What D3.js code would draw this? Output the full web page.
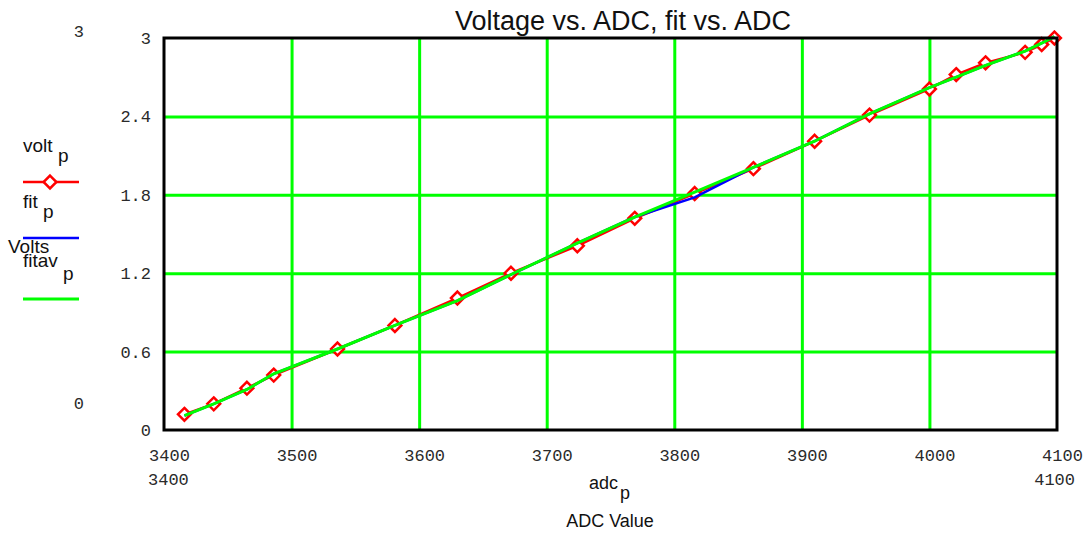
<!DOCTYPE html>
<html>
<head>
<meta charset="utf-8">
<script src="https://cdn.jsdelivr.net/npm/d3@7"></script>
<style>
  html, body { margin: 0; padding: 0; background: #fff; }
  svg { display: block; }
  .mono { font-family: "Liberation Mono", "Courier New", monospace; font-size: 17px; fill: #2a2a2a; }
  .sans { font-family: "Liberation Sans", Arial, sans-serif; fill: #111; }
</style>
</head>
<body>
<svg id="chart" width="1092" height="534"></svg>
<script>
// ADC readings and measured voltages
const adc_p   = [3416, 3439, 3465, 3486, 3536, 3581, 3630, 3672, 3724, 3769,
                 3816, 3862, 3910, 3953, 4000, 4021, 4044, 4075, 4088, 4098];
const volt_p  = [0.12, 0.20, 0.32, 0.42, 0.62, 0.80, 1.01, 1.20, 1.41, 1.62,
                 1.81, 2.00, 2.21, 2.41, 2.61, 2.72, 2.81, 2.89, 2.95, 3.00];
// fitted curves evaluated at the same ADC readings
const fit_p   = [0.11, 0.20, 0.31, 0.43, 0.62, 0.80, 0.99, 1.19, 1.43, 1.63,
                 1.78, 2.01, 2.21, 2.42, 2.62, 2.70, 2.79, 2.90, 2.96, 3.01];
const fitav_p = [0.11, 0.20, 0.31, 0.43, 0.62, 0.80, 0.99, 1.19, 1.43, 1.63,
                 1.82, 2.01, 2.21, 2.42, 2.62, 2.70, 2.79, 2.90, 2.96, 3.01];

const xTicks = [3400, 3500, 3600, 3700, 3800, 3900, 4000, 4100];
const yTicks = [0, 0.6, 1.2, 1.8, 2.4, 3];
const xLimits = [3400, 4100];
const yLimits = [0, 3];

const svg = d3.select("#chart");
const x = d3.scaleLinear().domain(xLimits).range([164, 1057]);
const y = d3.scaleLinear().domain(yLimits).range([430, 38]);

const GRID = "#00ff00";

// grid lines (interior ticks only)
svg.append("g")
  .attr("transform", `translate(0,${y(0)})`)
  .call(d3.axisBottom(x).tickValues(xTicks.slice(1, -1)).tickSize(-(y(0) - y(3))).tickFormat(""))
  .call(g => g.select(".domain").remove())
  .call(g => g.selectAll("line").attr("stroke", GRID).attr("stroke-width", 3));
svg.append("g")
  .attr("transform", `translate(${x(3400)},0)`)
  .call(d3.axisLeft(y).tickValues(yTicks.slice(1, -1)).tickSize(-(x(4100) - x(3400))).tickFormat(""))
  .call(g => g.select(".domain").remove())
  .call(g => g.selectAll("line").attr("stroke", GRID).attr("stroke-width", 3));

// tick labels
const xAxis = svg.append("g")
  .attr("transform", `translate(0,${y(0)})`)
  .call(d3.axisBottom(x).tickValues(xTicks).tickSize(0).tickPadding(0).tickFormat(d3.format("d")));
xAxis.select(".domain").remove();
xAxis.selectAll("text").attr("class", "mono").attr("font-family", null).attr("font-size", null)
  .attr("fill", null).attr("dy", null).attr("y", 31).attr("dx", 5);

const yAxis = svg.append("g")
  .attr("transform", `translate(${x(3400)},0)`)
  .call(d3.axisLeft(y).tickValues(yTicks).tickSize(0).tickPadding(13).tickFormat(d => String(d)));
yAxis.select(".domain").remove();
yAxis.selectAll("text").attr("class", "mono").attr("font-family", null).attr("font-size", null)
  .attr("fill", null);

// axis limit labels
svg.append("text").attr("class", "mono").attr("x", 84).attr("y", y(3) - 6).attr("dy", "0.32em")
  .attr("text-anchor", "end").text(yLimits[1]);
svg.append("text").attr("class", "mono").attr("x", 84).attr("y", y(0) - 26).attr("dy", "0.32em")
  .attr("text-anchor", "end").text(yLimits[0]);
svg.append("text").attr("class", "mono").attr("x", x(xLimits[0]) - 16).attr("y", 485)
  .attr("text-anchor", "start").text(xLimits[0]);
svg.append("text").attr("class", "mono").attr("x", x(xLimits[1]) + 18).attr("y", 485)
  .attr("text-anchor", "end").text(xLimits[1]);

// data traces
svg.append("clipPath").attr("id", "plot-clip")
  .append("rect").attr("x", x(3400)).attr("y", y(3) - 8).attr("width", x(4100) - x(3400) + 8).attr("height", y(0) - y(3) + 8);

const plot = svg.append("g").attr("clip-path", "url(#plot-clip)");
const line = vals => d3.line().x((d, i) => x(adc_p[i])).y(d => y(d))(vals);
const diamond = d3.symbol().type(d3.symbolDiamond2).size(105);

plot.append("path").attr("d", line(volt_p)).attr("fill", "none").attr("stroke", "#ff0000").attr("stroke-width", 2.5);
plot.selectAll(".pt").data(volt_p).join("path")
  .attr("class", "pt")
  .attr("transform", (d, i) => `translate(${x(adc_p[i])},${y(d)})`)
  .attr("d", diamond)
  .attr("fill", "#fff").attr("stroke", "#ff0000").attr("stroke-width", 2.5);
plot.append("path").attr("d", line(fit_p)).attr("fill", "none").attr("stroke", "#0000ff").attr("stroke-width", 2.5);
plot.append("path").attr("d", line(fitav_p)).attr("fill", "none").attr("stroke", GRID).attr("stroke-width", 3);

// plot frame
svg.append("rect")
  .attr("x", x(3400)).attr("y", y(3))
  .attr("width", x(4100) - x(3400)).attr("height", y(0) - y(3))
  .attr("fill", "none").attr("stroke", "#000").attr("stroke-width", 3);

// title
svg.append("text").attr("class", "sans").attr("x", 623).attr("y", 30)
  .attr("text-anchor", "middle").attr("font-size", 27).text("Voltage vs. ADC, fit vs. ADC");

// axis titles
const xl = svg.append("text").attr("class", "sans").attr("font-size", 18).attr("x", 589).attr("y", 489);
xl.append("tspan").text("adc");
xl.append("tspan").attr("x", 620).attr("y", 499).text("p");
svg.append("text").attr("class", "sans").attr("font-size", 18).attr("x", 610).attr("y", 527)
  .attr("text-anchor", "middle").text("ADC Value");

// legend
const legend = [
  { name: "volt",  sx: 58, ty: 152, sy: 162, ly: 182, color: "#ff0000", w: 2.5, mark: true },
  { name: "fit",   sx: 43, ty: 208, sy: 218, ly: 238, color: "#0000ff", w: 2.5, mark: false },
  { name: "fitav", sx: 63, ty: 267, sy: 280, ly: 299, color: GRID,      w: 3,   mark: false }
];
legend.forEach(l => {
  const t = svg.append("text").attr("class", "sans").attr("font-size", 19).attr("x", 23).attr("y", l.ty);
  t.append("tspan").text(l.name);
  t.append("tspan").attr("x", l.sx).attr("y", l.sy).text("p");
  svg.append("line").attr("x1", 23).attr("x2", 79).attr("y1", l.ly).attr("y2", l.ly)
    .attr("stroke", l.color).attr("stroke-width", l.w);
  if (l.mark) {
    svg.append("path").attr("transform", `translate(50,${l.ly})`).attr("d", diamond)
      .attr("fill", "#fff").attr("stroke", l.color).attr("stroke-width", 2.5);
  }
});
svg.append("text").attr("class", "sans").attr("font-size", 19).attr("x", 8).attr("y", 253).text("Volts");
</script>
</body>
</html>
